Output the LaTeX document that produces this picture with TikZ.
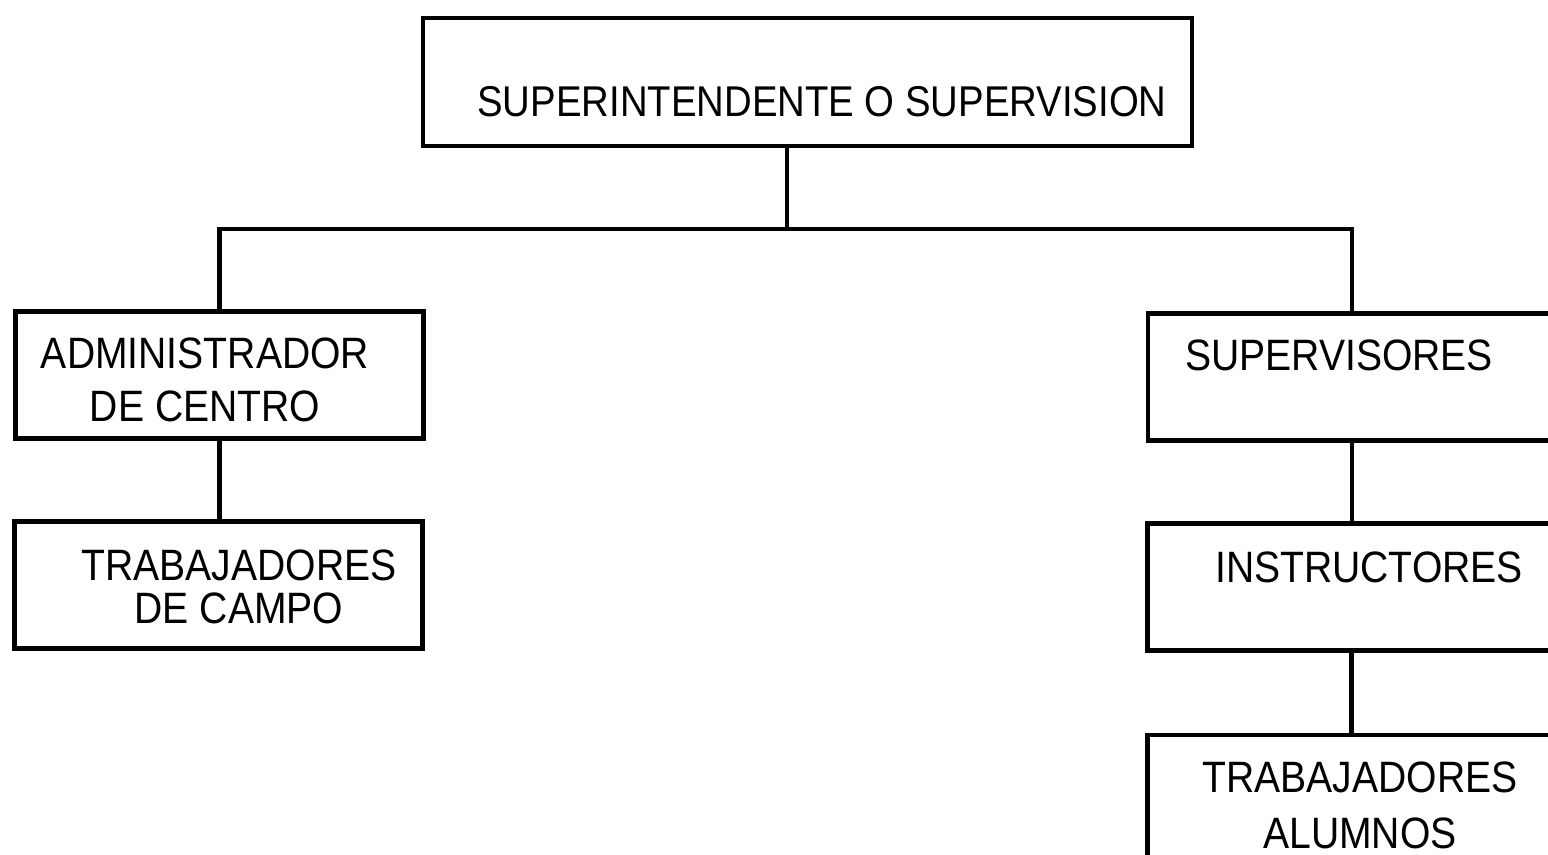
\documentclass[tikz,border=0pt]{standalone}
\usepackage{fontspec}
\newfontfamily\plotfont[FakeStretch=0.89]{Liberation Sans}
\usepackage{tikz}

\begin{document}
\begin{tikzpicture}[box/.style={draw,line width=1.2pt,minimum width=4.08cm,minimum height=1.27cm,inner sep=0pt},
    lbl/.style={font=\plotfont\fontsize{12.5}{15}\selectfont,align=center,inner sep=0pt},
    link/.style={line width=1.2pt}]
    \clip (0,0) rectangle (15.48,8.54);
    \fill[white] (0,0) rectangle (15.48,8.54);
    % top
    \node[box,minimum width=7.69cm,minimum height=1.28cm] (super) at (8.075,7.72) {};
    \node[lbl,font=\plotfont\fontsize{12.25}{15}\selectfont] (superT) at (8.22,7.52) {SUPERINTENDENTE O SUPERVISION};
    % left branch
    \node[box] (admin) at (2.195,4.79) {};
    \node[lbl] (adminT) at (2.05,4.74) {ADMINISTRADOR\\DE CENTRO};
    \node[box] (campo) at (2.185,2.69) {};
    \node[lbl,font=\plotfont\fontsize{12.5}{12.2}\selectfont] (campoT) at (2.39,2.675) {TRABAJADORES\\DE CAMPO};
    % right branch
    \node[box] (superv) at (13.52,4.77) {};
    \node[lbl] (supervT) at (13.39,4.99) {SUPERVISORES};
    \node[box] (instr) at (13.515,2.67) {};
    \node[lbl] (instrT) at (13.69,2.87) {INSTRUCTORES};
    \node[box,minimum height=1.65cm] (alum) at (13.515,0.365) {};
    \node[lbl,font=\plotfont\fontsize{12.5}{16}\selectfont] (alumT) at (13.6,0.49) {TRABAJADORES\\ALUMNOS};
    % connectors
    \coordinate (bus) at (7.87,6.25);
    \draw[link] (super.south -| bus) -- (bus);
    \draw[link] (admin.north) |- (bus) -| (superv.north);
    \draw[link] (admin.south) -- (admin.south |- campo.north);
    \draw[link] (superv.south) -- (superv.south |- instr.north);
    \draw[link] (instr.south) -- (instr.south |- alum.north);
\end{tikzpicture}
\end{document}
